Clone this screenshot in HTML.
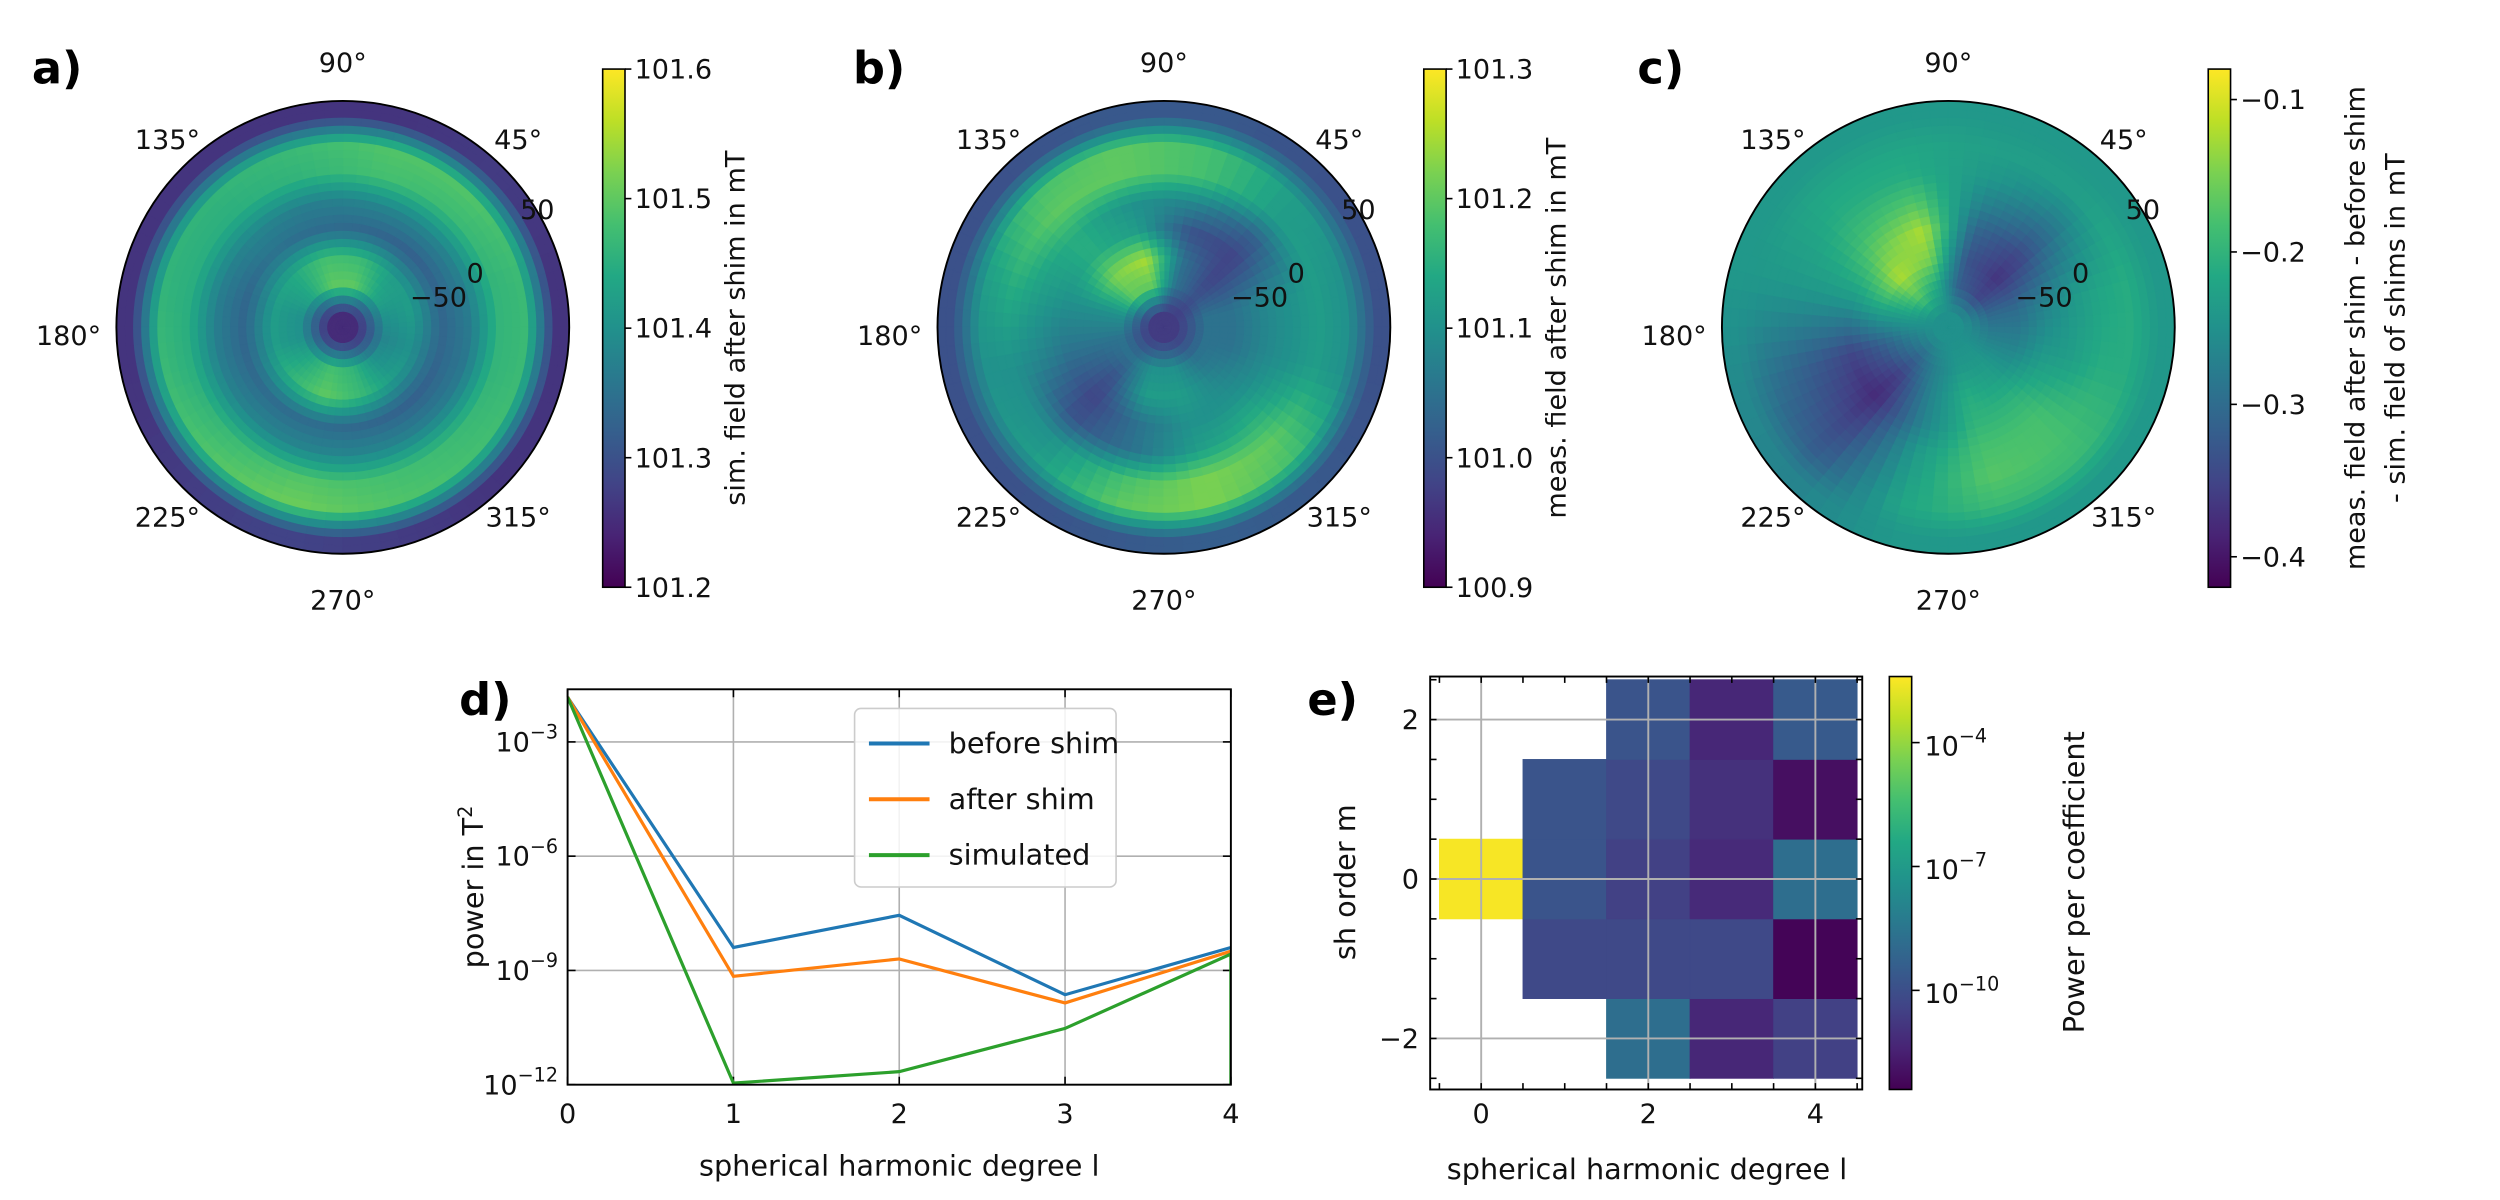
<!DOCTYPE html>
<html><head><meta charset="utf-8"><style>
html,body{margin:0;padding:0;background:#fff;width:2500px;height:1200px;overflow:hidden;}
svg{display:block;font-family:"DejaVu Sans","Liberation Sans",sans-serif;}
</style></head><body>
<svg id="fig" width="2500" height="1200" viewBox="0 0 1568 752" xmlns="http://www.w3.org/2000/svg">
<defs>
<linearGradient id="vir" x1="0" y1="1" x2="0" y2="0">
<stop offset="0" stop-color="#440154"/><stop offset="0.1" stop-color="#482475"/><stop offset="0.2" stop-color="#414487"/><stop offset="0.3" stop-color="#355f8d"/><stop offset="0.4" stop-color="#2a788e"/><stop offset="0.5" stop-color="#21918c"/><stop offset="0.6" stop-color="#22a884"/><stop offset="0.7" stop-color="#44bf70"/><stop offset="0.8" stop-color="#7ad151"/><stop offset="0.9" stop-color="#bddf26"/><stop offset="1" stop-color="#fde725"/>
</linearGradient>
<clipPath id="clipD"><rect x="356" y="432" width="416" height="248"/></clipPath>
</defs>
<g id="root"></g>
</svg>
<script>
// ---------- data ----------
const polarA = [
 [101.25,101.25,101.25,101.25,101.25,101.25,101.25,101.25,101.25,101.25,101.25,101.25],
 [101.40,101.44,101.50,101.50,101.44,101.40,101.40,101.44,101.48,101.46,101.40,101.38],
 [101.42,101.42,101.47,101.48,101.44,101.42,101.42,101.46,101.50,101.47,101.42,101.40],
 [101.33,101.32,101.33,101.34,101.35,101.33,101.33,101.34,101.34,101.33,101.32,101.33],
 [101.37,101.38,101.38,101.37,101.38,101.37,101.37,101.38,101.38,101.38,101.37,101.36],
 [101.46,101.47,101.48,101.46,101.45,101.45,101.45,101.47,101.49,101.48,101.47,101.46],
 [101.47,101.49,101.49,101.47,101.46,101.46,101.47,101.49,101.51,101.49,101.48,101.47],
 [101.26,101.27,101.26,101.26,101.26,101.26,101.26,101.27,101.28,101.27,101.26,101.26]
];
const polarB = [
 [100.97,100.97,100.97,100.97,100.97,100.97,100.97,100.97,100.97,100.97,100.97,100.97],
 [101.05,101.00,101.05,101.20,101.20,101.10,101.05,101.05,101.10,101.10,101.05,101.05],
 [101.05,100.98,101.05,101.25,101.22,101.10,101.05,101.00,101.12,101.12,101.08,101.05],
 [101.08,100.98,101.00,101.12,101.15,101.10,101.05,100.98,101.05,101.10,101.10,101.08],
 [101.10,101.02,101.08,101.10,101.15,101.12,101.08,101.00,101.05,101.12,101.15,101.10],
 [101.12,101.12,101.18,101.20,101.20,101.15,101.10,101.10,101.18,101.22,101.20,101.12],
 [101.10,101.12,101.18,101.20,101.18,101.12,101.10,101.12,101.20,101.22,101.18,101.10],
 [101.00,101.00,101.01,101.01,101.00,101.00,101.00,101.00,101.01,101.02,101.01,101.00]
];
const polarC = [
 [-0.25,-0.25,-0.25,-0.25,-0.25,-0.25,-0.25,-0.25,-0.25,-0.25,-0.25,-0.25],
 [-0.30,-0.35,-0.32,-0.22,-0.17,-0.23,-0.28,-0.31,-0.27,-0.24,-0.24,-0.27],
 [-0.30,-0.37,-0.33,-0.15,-0.12,-0.22,-0.32,-0.36,-0.27,-0.21,-0.23,-0.27],
 [-0.27,-0.35,-0.31,-0.12,-0.16,-0.24,-0.35,-0.38,-0.27,-0.20,-0.20,-0.24],
 [-0.24,-0.31,-0.27,-0.17,-0.19,-0.24,-0.33,-0.36,-0.24,-0.18,-0.18,-0.23],
 [-0.22,-0.27,-0.24,-0.21,-0.21,-0.24,-0.31,-0.34,-0.23,-0.17,-0.18,-0.21],
 [-0.21,-0.23,-0.23,-0.22,-0.22,-0.24,-0.29,-0.32,-0.22,-0.19,-0.19,-0.21],
 [-0.24,-0.24,-0.24,-0.24,-0.24,-0.24,-0.26,-0.27,-0.24,-0.24,-0.24,-0.24]
];
const angleLabels = ["90°","135°","45°","180°","225°","315°","270°"];
const cbTicksA = [101.2,101.3,101.4,101.5,101.6];
const cbTicksB = [100.9,101.0,101.1,101.2,101.3];
const cbTicksC = [-0.4,-0.3,-0.2,-0.1];

const degrees = [0,1,2,3,4,5];
const beforeShim = [1.5e-2,4e-9,2.8e-8,2.3e-10,4e-9];
const afterShim = [1.5e-2,7e-10,2e-9,1.4e-10,3.2e-9];
const simulated = [1.5e-2,1.1e-12,2.2e-12,3e-11,2.7e-9,1e-40];
const dYTicks = [-3,-6,-9,-12];
const dXTicks = [0,1,2,3,4];

const shDegrees = [0,1,1,1,2,2,2,2,2,3,3,3,3,3,4,4,4,4,4];
const shOrders  = [0,-1,0,1,-2,-1,0,1,2,-2,-1,0,1,2,-2,-1,0,1,2];
const shLogPower= [-2.5,-10.2,-9.8,-9.8,-8.8,-10.2,-10.5,-10.2,-9.8,-11.3,-10.2,-11.2,-11.0,-11.3,-10.5,-12.3,-8.8,-12.0,-9.6];
const eCbTicks = [-4,-7,-10];

// ---------- helpers ----------
const NS="http://www.w3.org/2000/svg";
const root=document.getElementById('root');
function mk(tag,attrs,parent){const e=document.createElementNS(NS,tag);for(const k in attrs)e.setAttribute(k,attrs[k]);(parent||root).appendChild(e);return e;}
const vstops=[[68,1,84],[72,36,117],[65,68,135],[53,95,141],[42,120,142],[33,145,140],[34,168,132],[68,191,112],[122,209,81],[189,223,38],[253,231,37]];
function viridis(t){t=Math.max(0,Math.min(1,t));const p=t*10;const i=Math.min(9,Math.floor(p));const f=p-i;const a=vstops[i],b=vstops[i+1];
 return 'rgb('+a.map((v,k)=>Math.round(v+(b[k]-v)*f)).join(',')+')';}
function txt(x,y,s,opts){const t=mk('text',Object.assign({x:x,y:y,'font-size':16,'text-anchor':'middle',fill:'#111'},opts||{}));t.textContent=s;return t;}
function sample(data,rf,af){
 const nr=data.length,ns=data[0].length;
 let ri=rf*nr-0.5; if(ri<0)ri=0; if(ri>nr-1)ri=nr-1;
 const r0=Math.floor(ri),r1=Math.min(nr-1,r0+1),fr=ri-r0;
 let si=af*ns-0.5; si=((si%ns)+ns)%ns;
 const s0=Math.floor(si),s1=(s0+1)%ns,fs=si-s0;
 const v=(r,s)=>data[r][s];
 return (v(r0,s0)*(1-fs)+v(r0,s1)*fs)*(1-fr)+(v(r1,s0)*(1-fs)+v(r1,s1)*fs)*fr;
}

// ---------- polar panels ----------
function polarPanel(key,cx,data,vmin,vmax,cbX,ticks,cbLabel,fmt){
 const cy=205,R=142;
 const g=mk('g',{});
 
 
 const pl=txt(cx-195,52,key+')',{'font-size':28,'font-weight':'bold','text-anchor':'start',fill:'#000'});
 
 
 const NR=28,NS2=72;
 for(let i=0;i<NR;i++)for(let j=0;j<NS2;j++){
  const r0=R*i/NR,r1=R*(i+1)/NR,a0=j*2*Math.PI/NS2,a1=(j+1)*2*Math.PI/NS2;
  const p=(r,a)=>(cx+r*Math.cos(a)).toFixed(2)+','+(cy-r*Math.sin(a)).toFixed(2);
  const d='M'+p(r0,a0)+' L'+p(r1,a0)+' A'+r1+','+r1+' 0 0 0 '+p(r1,a1)+' L'+p(r0,a1)+(r0>0?' A'+r0+','+r0+' 0 0 1 '+p(r0,a0):'')+'Z';
  const val=sample(data,(i+0.5)/NR,(j+0.5)/NS2);
  const c=viridis((val-vmin)/(vmax-vmin));
  const w=mk('path',{d:d,fill:c,stroke:c,'stroke-width':0.6},g);
  
  
 }
 const ring=mk('circle',{cx:cx,cy:cy,r:R,fill:'none',stroke:'#000','stroke-width':1.2},g);
 
 
 const pos=[[cx,45],[cx-110,93],[cx+110,93],[cx-172,216],[cx-110,330],[cx+110,330],[cx,382]];
 angleLabels.forEach((s,k)=>{const t=txt(pos[k][0],pos[k][1],s,{'font-size':17});
  
  });
 [['50',cx+122,137],['0',cx+83,177],['−50',cx+60,192]].forEach(a=>{const t=txt(a[1],a[2],a[0],{'font-size':17});
  
  });
 const top=43,bot=368;
 const cb=mk('rect',{x:cbX,y:top,width:14,height:bot-top,fill:'url(#vir)',stroke:'#000','stroke-width':1},g);
 
 
 ticks.forEach(v=>{const y=bot-(v-vmin)/(vmax-vmin)*(bot-top);
  mk('line',{x1:cbX+14,x2:cbX+18,y1:y,y2:y,stroke:'#000','stroke-width':1},g);
  const t=txt(cbX+20,y+6,fmt(v),{'font-size':17,'text-anchor':'start'});
  
  });
 cbLabel.forEach((s,k)=>{const lx=cbX+(cbLabel.length>1?98+k*25:89);
  const t=txt(lx,(top+bot)/2,s,{'font-size':17,transform:'rotate(-90 '+lx+' '+(top+bot)/2+')'});
  
  });
}
const f1=v=>v.toFixed(1), f1m=v=>(v<0?'−':'')+Math.abs(v).toFixed(1);
polarPanel('a',215,polarA,101.2,101.6,378,cbTicksA,['sim. field after shim in mT'],f1);
polarPanel('b',730,polarB,100.9,101.3,893,cbTicksB,['meas. field after shim in mT'],f1);
polarPanel('c',1222,polarC,-0.42,-0.08,1385,cbTicksC,['meas. field after shim - before shim','- sim. field of shims in mT'],f1m);

// ---------- panel d ----------
(function(){
 const x0=356,x1=772,y0=432,y1=680;
 const xs=l=>x0+(l-0)*(x1-x0)/4;
 const ys=v=>y1-(Math.log10(v)+12)*(y1-465)/9;
 const g=mk('g',{});
 
 
 const pl=txt(288,448,'d)',{'font-size':28,'font-weight':'bold','text-anchor':'start',fill:'#000'});
 
 
 dXTicks.forEach(l=>{const x=xs(l);
  mk('line',{x1:x,x2:x,y1:y0,y2:y1,stroke:'#b0b0b0','stroke-width':1},g);
  mk('line',{x1:x,x2:x,y1:y1,y2:y1-5,stroke:'#000'},g);mk('line',{x1:x,x2:x,y1:y0,y2:y0+5,stroke:'#000'},g);
  const t=txt(x,704,String(l),{'font-size':17});
  
  });
 dYTicks.forEach(e=>{const y=ys(Math.pow(10,e));
  mk('line',{x1:x0,x2:x1,y1:y,y2:y,stroke:'#b0b0b0','stroke-width':1},g);
  mk('line',{x1:x0,x2:x0+5,y1:y,y2:y,stroke:'#000'},g);mk('line',{x1:x1,x2:x1-5,y1:y,y2:y,stroke:'#000'},g);
  const t=mk('text',{x:350,y:y+6,'font-size':17,'text-anchor':'end',fill:'#111'},g);
  
  
  t.appendChild(document.createTextNode('10'));
  const s=mk('tspan',{dy:-8,'font-size':12},t);s.textContent='−'+Math.abs(e);});
 const series=[[beforeShim,'#1f77b4','before-shim-line'],[afterShim,'#ff7f0e','after-shim-line'],[simulated,'#2ca02c','simulated-line']];
 series.forEach(s=>{const pts=s[0].map((v,i)=>Math.min(x1,xs(degrees[i])).toFixed(2)+','+Math.min(y1+2,ys(v)).toFixed(2)).join(' ');
  const p=mk('polyline',{points:pts,fill:'none',stroke:s[1],'stroke-width':2,'clip-path':'url(#clipD)'},g);
  
  });
 mk('rect',{x:x0,y:y0,width:x1-x0,height:y1-y0,fill:'none',stroke:'#000','stroke-width':1.2},g);
 const lg=mk('g',{},g);
 
 
 mk('rect',{x:536,y:444,width:164,height:112,rx:4,fill:'#fff','fill-opacity':0.85,stroke:'#ccc'},lg);
 [['before shim','#1f77b4',466],['after shim','#ff7f0e',501],['simulated','#2ca02c',536]].forEach(e=>{
  const ln=mk('line',{x1:545,x2:583,y1:e[2],y2:e[2],stroke:e[1],'stroke-width':2.5},lg);
  
  
  const t=txt(595,e[2]+6,e[0],{'font-size':18,'text-anchor':'start'});
  
  });
 const yl=txt(303,556,'',{'font-size':18,transform:'rotate(-90 303 556)'});
 yl.textContent='power in T';const sp=mk('tspan',{dy:-7,'font-size':12},yl);sp.textContent='2';
 
 
 const xl=txt(564,737,'spherical harmonic degree l',{'font-size':18});
 
 
})();

// ---------- panel e ----------
(function(){
 const x0=897,x1=1168,y0=424,y1=683;
 const xs=l=>929+l*52.4, ys=m=>551-m*50;
 const vmin=-12.4,vmax=-2.4;
 const g=mk('g',{});
 
 
 const pl=txt(820,448,'e)',{'font-size':28,'font-weight':'bold','text-anchor':'start',fill:'#000'});
 
 
 shDegrees.forEach((l,i)=>{const m=shOrders[i];const c=viridis((shLogPower[i]-vmin)/(vmax-vmin));
  const r=mk('rect',{x:xs(l-0.5),y:ys(m+0.5),width:52.4,height:50,fill:c,stroke:c,'stroke-width':0.5},g);
  
  });
 [0,2,4].forEach(l=>{const x=xs(l);mk('line',{x1:x,x2:x,y1:y0,y2:y1,stroke:'#b0b0b0','stroke-width':1.2},g);
  const t=txt(x,704,String(l),{'font-size':17});
  
  });
 [-2,0,2].forEach(m=>{const y=ys(m);mk('line',{x1:x0,x2:x1,y1:y,y2:y,stroke:'#b0b0b0','stroke-width':1.2},g);
  const t=mk('text',{x:890,y:y+6,'font-size':17,'text-anchor':'end',fill:'#111'},g);t.textContent=(m<0?'−':'')+Math.abs(m);
  
  });
 for(let k=-0.5;k<=4.5;k+=0.5){const x=xs(k);mk('line',{x1:x,x2:x,y1:y0,y2:y0+4,stroke:'#000'},g);mk('line',{x1:x,x2:x,y1:y1,y2:y1-4,stroke:'#000'},g);}
 for(let k=-2.5;k<=2.5;k+=0.5){const y=ys(k);mk('line',{x1:x0,x2:x0+4,y1:y,y2:y,stroke:'#000'},g);mk('line',{x1:x1,x2:x1-4,y1:y,y2:y,stroke:'#000'},g);}
 mk('rect',{x:x0,y:y0,width:x1-x0,height:y1-y0,fill:'none',stroke:'#000','stroke-width':1.2},g);
 const yl=txt(850,553,'sh order m',{'font-size':18,transform:'rotate(-90 850 553)'});
 
 
 const xl=txt(1033,739,'spherical harmonic degree l',{'font-size':18});
 
 
 const cb=mk('rect',{x:1185,y:y0,width:14,height:y1-y0,fill:'url(#vir)',stroke:'#000'},g);
 
 
 eCbTicks.forEach(e=>{const y=y1-(e-vmin)/(vmax-vmin)*(y1-y0);
  mk('line',{x1:1199,x2:1204,y1:y,y2:y,stroke:'#000'},g);
  const t=mk('text',{x:1207,y:y+8,'font-size':17,'text-anchor':'start',fill:'#111'},g);
  
  
  t.appendChild(document.createTextNode('10'));const s=mk('tspan',{dy:-8,'font-size':12},t);s.textContent='−'+Math.abs(e);});
 const cl=txt(1307,553,'Power per coefficient',{'font-size':18,transform:'rotate(-90 1307 553)'});
 
 
})();
</script>
</body></html>
